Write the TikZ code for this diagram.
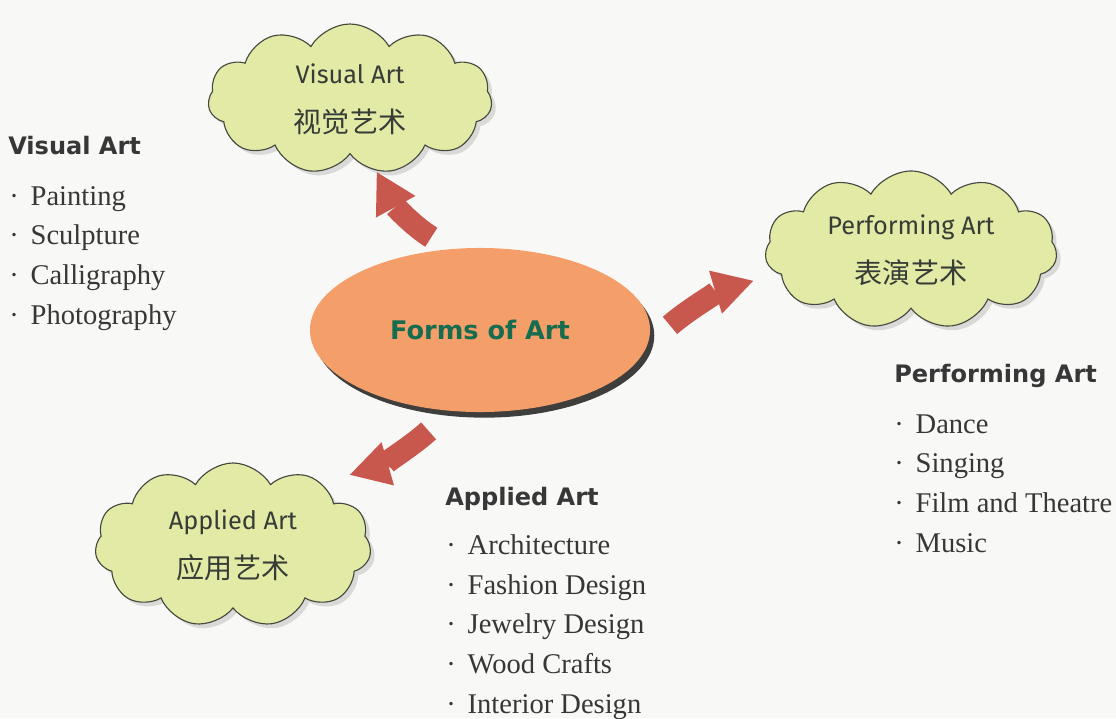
\documentclass[tikz,border=0pt]{standalone}
\usepackage{fontspec}
\setmainfont{Liberation Serif}
\setsansfont{Fira Sans}
\newfontfamily\headfont{DejaVu Sans}
\newfontfamily\cjk{Noto Sans CJK SC}
\usetikzlibrary{shapes.geometric, shapes.symbols, shadows, arrows.meta}
\tikzset{>=stealth}

\definecolor{paper}{RGB}{248,248,246}
\definecolor{cloudfill}{RGB}{226,234,166}
\definecolor{cloudline}{RGB}{70,72,62}
\definecolor{cloudtext}{RGB}{55,60,55}
\definecolor{formsfill}{RGB}{244,158,106}
\definecolor{formstext}{RGB}{22,108,78}
\definecolor{arrowred}{RGB}{200,88,78}
\definecolor{listtext}{RGB}{55,55,55}

\tikzset{
  artcloud/.style={cloud, cloud puffs=11, cloud puff arc=120, cloud ignores aspect,
    draw=cloudline, line width=0.8pt, fill=cloudfill, align=center, text=cloudtext,
    font=\sffamily\fontsize{18}{35}\selectfont,
    drop shadow={opacity=0.25, shadow xshift=3pt, shadow yshift=-3pt}},
  bentarrow/.style={draw=arrowred, line width=16pt,
    -{Triangle[length=28pt, width=32pt, line width=0pt]}},
  heading/.style={anchor=base west, inner sep=0pt, text=listtext,
    font=\headfont\bfseries\fontsize{17.1}{20}\selectfont},
  itemlist/.style={anchor=base west, inner sep=0pt, align=left, text=listtext,
    font=\fontsize{20.3}{28.2}\selectfont}
}

\begin{document}
\begin{tikzpicture}[x=0.025cm, y=-0.025cm]
  \fill[paper] (0,0) rectangle (1116,718);
  \useasboundingbox (0,0) rectangle (1116,718);

  % centre
  \node[ellipse, fill=formsfill, minimum width=8.5cm, minimum height=4.1cm,
    drop shadow={fill=black, opacity=0.75, shadow xshift=3pt, shadow yshift=-4pt},
    text=formstext, font=\headfont\bfseries\fontsize{18.2}{22}\selectfont]
    (forms) at (480,330) {Forms of Art};

  % clouds
  \node[artcloud, minimum width=7.1cm, minimum height=3.75cm] (visual) at (350,99)
    {Visual Art\\{\cjk\fontsize{20}{35}\selectfont 视觉艺术}};
  \node[artcloud, minimum width=7.3cm, minimum height=3.95cm] (perform) at (911,250)
    {Performing Art\\{\cjk\fontsize{20}{35}\selectfont 表演艺术}};
  \node[artcloud, minimum width=6.9cm, minimum height=4.1cm] (applied) at (233,545)
    {Applied Art\\{\cjk\fontsize{20}{35}\selectfont 应用艺术}};

  % arrows
  \draw[bentarrow, shorten <=16pt, shorten >=1pt] (forms.110) to[bend left=15] (visual.-70);
  \draw[bentarrow, shorten <=21pt, shorten >=18pt] (forms.-5) to[bend left=12] (perform.190);
  \draw[bentarrow, shorten <=21pt, shorten >=21pt] (forms.-110) to[bend left=13] (applied.35);

  % lists (base = last line)
  \node[heading] (visualhead) at (8,154) {Visual Art};
  \node[itemlist] (visuallist) at (9,324)
    {· \,Painting\\· \,Sculpture\\· \,Calligraphy\\· \,Photography};
  \node[heading] (performhead) at (894,382) {Performing Art};
  \node[itemlist] (performlist) at (894,552)
    {· \,Dance\\· \,Singing\\· \,Film and Theatre\\· \,Music};
  \node[heading] (appliedhead) at (445,505) {Applied Art};
  \node[itemlist] (appliedlist) at (446,713)
    {· \,Architecture\\· \,Fashion Design\\· \,Jewelry Design\\· \,Wood Crafts\\· \,Interior Design};
\end{tikzpicture}
\end{document}
